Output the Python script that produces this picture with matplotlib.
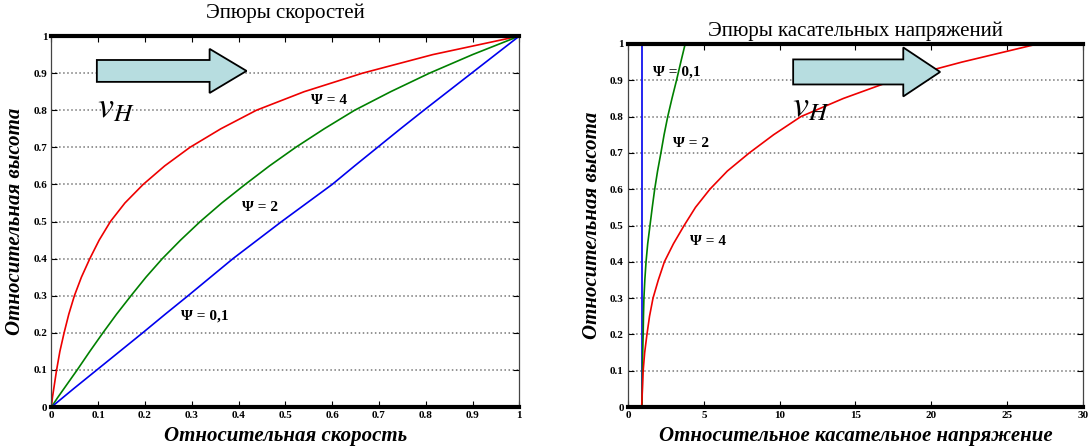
import matplotlib.pyplot as plt
from matplotlib.patches import FancyArrow

plt.rcParams['font.family'] = ['Liberation Serif', 'DejaVu Serif']
plt.rcParams['mathtext.fontset'] = 'stix'

# velocity profiles
vel_y = [0, 0.025, 0.05, 0.1, 0.15, 0.2, 0.25, 0.3, 0.35, 0.4, 0.45, 0.5,
         0.55, 0.6, 0.65, 0.7, 0.75, 0.8, 0.85, 0.9, 0.95, 1.0]
vel_psi4 = [0, 0.002, 0.005, 0.011, 0.018, 0.027, 0.037, 0.049, 0.064, 0.082, 0.102, 0.126,
            0.157, 0.196, 0.242, 0.296, 0.362, 0.438, 0.54, 0.665, 0.815, 1.0]
vel_psi2 = [0, 0.013, 0.027, 0.055, 0.082, 0.11, 0.139, 0.17, 0.202, 0.237, 0.276, 0.318,
            0.364, 0.414, 0.466, 0.522, 0.583, 0.648, 0.725, 0.808, 0.9, 1.0]
vel_psi01 = [0, 0.024, 0.048, 0.097, 0.146, 0.195, 0.243, 0.292, 0.34, 0.388, 0.44, 0.492,
             0.546, 0.6, 0.648, 0.697, 0.746, 0.796, 0.847, 0.898, 0.949, 1.0]

# shear stress profiles
str_y = [0, 0.05, 0.1, 0.15, 0.2, 0.25, 0.3, 0.35, 0.4, 0.45, 0.5,
         0.55, 0.6, 0.65, 0.7, 0.75, 0.8, 0.85, 0.9, 0.95, 1.0]
str_psi4 = [0.9, 0.95, 1.0, 1.1, 1.25, 1.42, 1.65, 2.0, 2.4, 3.0, 3.7,
            4.45, 5.4, 6.55, 8.0, 9.6, 11.4, 14.2, 17.5, 22.0, 27.0]
str_psi2 = [0.93, 0.94, 0.95, 0.97, 1.0, 1.02, 1.05, 1.11, 1.19, 1.3, 1.45,
            1.6, 1.76, 1.95, 2.17, 2.38, 2.62, 2.9, 3.2, 3.48, 3.77]
str_psi01_y = [0, 1.0]
str_psi01 = [0.93, 0.93]

y_ticks = [0, 0.1, 0.2, 0.3, 0.4, 0.5, 0.6, 0.7, 0.8, 0.9, 1]
vel_ticks = [0, 0.1, 0.2, 0.3, 0.4, 0.5, 0.6, 0.7, 0.8, 0.9, 1]
str_ticks = [0, 5, 10, 15, 20, 25, 30]

fig = plt.figure(figsize=(10.88, 4.48), dpi=100)
ax1 = fig.add_axes([0.0473, 0.0915, 0.430, 0.828])
ax2 = fig.add_axes([0.5772, 0.0915, 0.4182, 0.8103])


def style(ax, xticks, xmax):
    ax.set_xlim(0, xmax)
    ax.set_ylim(0, 1)
    ax.set_xticks(xticks)
    ax.set_yticks(y_ticks)
    ax.set_xticklabels([f'{v:g}' for v in xticks], fontweight='bold', fontsize=8)
    ax.set_yticklabels([f'{v:g}' for v in y_ticks], fontweight='bold', fontsize=8)
    ax.tick_params(direction='in', length=4, width=0.8, top=True, right=True, pad=3)
    ax.yaxis.grid(True, linestyle=':', color='#777777', linewidth=1.1)
    for s in ('top', 'bottom'):
        ax.spines[s].set_linewidth(3)
        ax.spines[s].set_color('black')
    for s in ('left', 'right'):
        ax.spines[s].set_linewidth(0.9)
        ax.spines[s].set_color('#444444')
    ax.set_axisbelow(True)


style(ax1, vel_ticks, 1)
ax1.plot(vel_psi4, vel_y, color='#ee0000', lw=1.2)
ax1.plot(vel_psi2, vel_y, color='#008000', lw=1.2)
ax1.plot(vel_psi01, vel_y, color='#0000ee', lw=1.2)
ax1.set_title('Эпюры скоростей', fontsize=15, pad=13)
ax1.set_xlabel('Относительная скорость', fontsize=15, style='italic',
               fontweight='bold', labelpad=4)
ax1.set_ylabel('Относительная высота', fontsize=15, style='italic',
               fontweight='bold', labelpad=6)
ax1.text(0.593, 0.825, 'Ψ = 4', fontsize=11, fontweight='bold', ha='center', va='center')
ax1.text(0.446, 0.539, 'Ψ = 2', fontsize=11, fontweight='bold', ha='center', va='center')
ax1.text(0.328, 0.245, 'Ψ = 0,1', fontsize=11, fontweight='bold', ha='center', va='center')
ax1.add_patch(FancyArrow(0.097, 0.906, 0.32, 0, width=0.059, head_width=0.119,
                         head_length=0.079, length_includes_head=True,
                         transform=ax1.transAxes, facecolor='#b7dde0',
                         edgecolor='black', linewidth=1.3, zorder=5))
ax1.text(0.097, 0.78, r'$v_H$', fontsize=26, transform=ax1.transAxes,
         ha='left', va='baseline', zorder=6)

style(ax2, str_ticks, 30)
ax2.plot(str_psi01, str_psi01_y, color='#0000ee', lw=1.2)
ax2.plot(str_psi2, str_y, color='#008000', lw=1.2)
ax2.plot(str_psi4, str_y, color='#ee0000', lw=1.2)
ax2.set_title('Эпюры касательных напряжений', fontsize=15, pad=6)
ax2.set_xlabel('Относительное касательное напряжение', fontsize=15, style='italic',
               fontweight='bold', labelpad=4)
ax2.set_ylabel('Относительная высота', fontsize=15, style='italic',
               fontweight='bold', labelpad=6)
ax2.text(3.23, 0.923, 'Ψ = 0,1', fontsize=11, fontweight='bold', ha='center', va='center')
ax2.text(4.15, 0.725, 'Ψ = 2', fontsize=11, fontweight='bold', ha='center', va='center')
ax2.text(5.27, 0.455, 'Ψ = 4', fontsize=11, fontweight='bold', ha='center', va='center')
ax2.add_patch(FancyArrow(0.363, 0.923, 0.323, 0, width=0.069, head_width=0.135,
                         head_length=0.081, length_includes_head=True,
                         transform=ax2.transAxes, facecolor='#b7dde0',
                         edgecolor='black', linewidth=1.3, zorder=5))
ax2.text(0.36, 0.80, r'$v_H$', fontsize=26, transform=ax2.transAxes,
         ha='left', va='baseline', zorder=6)

fig.savefig('out.png', dpi=100)
